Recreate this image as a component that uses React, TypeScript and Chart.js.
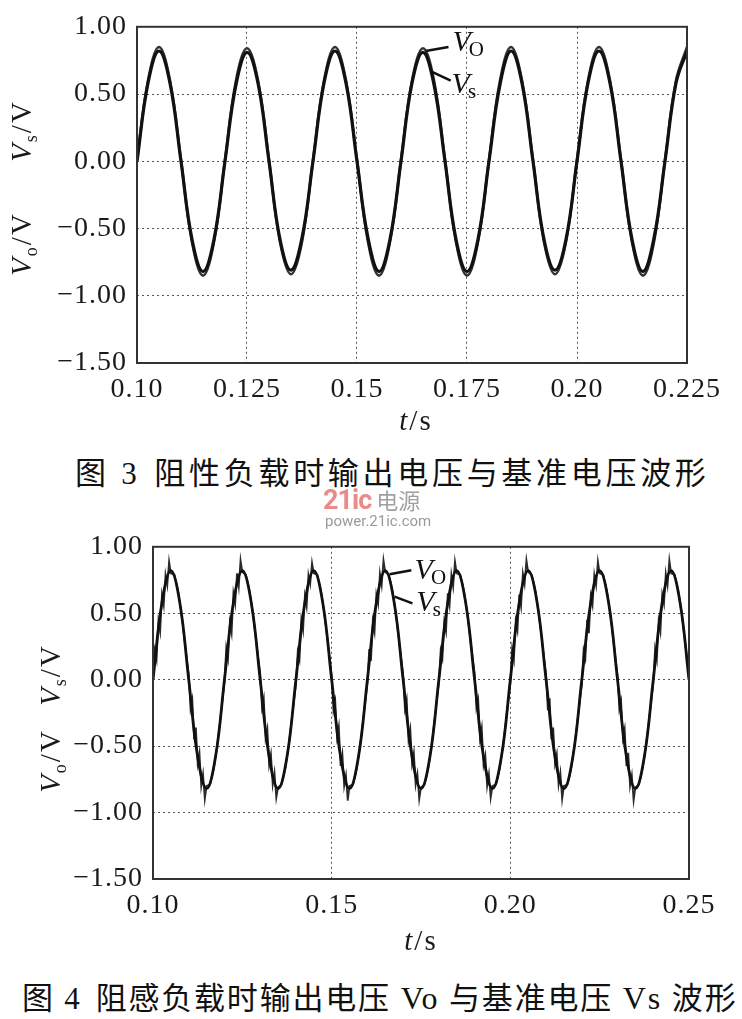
import React, { useEffect, useRef } from 'react';
import { Chart, registerables } from 'chart.js';

Chart.register(...registerables);

// ---------- Figure 3 (resistive load) ----------
const t1 = [
  0.1, 0.1025, 0.105, 0.1075, 0.11, 0.1125, 0.115, 0.1175,
  0.12, 0.1225, 0.125, 0.1275, 0.13, 0.1325, 0.135, 0.1375,
  0.14, 0.1425, 0.145, 0.1475, 0.15, 0.1525, 0.155, 0.1575,
  0.16, 0.1625, 0.165, 0.1675, 0.17, 0.1725, 0.175, 0.1775,
  0.18, 0.1825, 0.185, 0.1875, 0.19, 0.1925, 0.195, 0.1975,
  0.2, 0.2025, 0.205, 0.2075, 0.21, 0.2125, 0.215, 0.2175,
  0.22, 0.2225, 0.225,
];
const vs1 = [
  0, 0.58, 0.82, 0.58, 0, -0.58, -0.82, -0.58,
  0, 0.57, 0.81, 0.58, 0, -0.58, -0.81, -0.57,
  0, 0.58, 0.82, 0.58, 0, -0.57, -0.82, -0.58,
  0, 0.58, 0.81, 0.57, 0, -0.58, -0.82, -0.58,
  0, 0.57, 0.82, 0.58, 0, -0.58, -0.81, -0.58,
  0, 0.58, 0.82, 0.58, 0, -0.58, -0.82, -0.57,
  0, 0.58, 0.82,
];
const vo1 = [
  0.01, 0.6, 0.85, 0.6, 0.01, -0.6, -0.85, -0.6,
  0.01, 0.6, 0.84, 0.6, 0.01, -0.6, -0.84, -0.6,
  0.01, 0.6, 0.85, 0.6, 0.01, -0.6, -0.85, -0.6,
  0.01, 0.6, 0.84, 0.6, 0.01, -0.6, -0.85, -0.6,
  0.01, 0.6, 0.85, 0.6, 0.01, -0.6, -0.84, -0.6,
  0.01, 0.6, 0.85, 0.6, 0.01, -0.6, -0.85, -0.6,
  0.01, 0.6, 0.85,
];
const xTicks1 = [0.1, 0.125, 0.15, 0.175, 0.2, 0.225];
const xTickLabels1 = ['0.10', '0.125', '0.15', '0.175', '0.20', '0.225'];

// ---------- Figure 4 (resistive-inductive load) ----------
const t2 = [
  0.1, 0.1025, 0.105, 0.1075, 0.11, 0.1125, 0.115, 0.1175,
  0.12, 0.1225, 0.125, 0.1275, 0.13, 0.1325, 0.135, 0.1375,
  0.14, 0.1425, 0.145, 0.1475, 0.15, 0.1525, 0.155, 0.1575,
  0.16, 0.1625, 0.165, 0.1675, 0.17, 0.1725, 0.175, 0.1775,
  0.18, 0.1825, 0.185, 0.1875, 0.19, 0.1925, 0.195, 0.1975,
  0.2, 0.2025, 0.205, 0.2075, 0.21, 0.2125, 0.215, 0.2175,
  0.22, 0.2225, 0.225, 0.2275, 0.23, 0.2325, 0.235, 0.2375,
  0.24, 0.2425, 0.245, 0.2475, 0.25,
];
const vs2 = [
  0, 0.58, 0.82, 0.58, 0, -0.58, -0.82, -0.58,
  0, 0.58, 0.82, 0.58, 0, -0.58, -0.82, -0.58,
  0, 0.58, 0.82, 0.58, 0, -0.58, -0.82, -0.58,
  0, 0.58, 0.82, 0.58, 0, -0.58, -0.82, -0.58,
  0, 0.58, 0.82, 0.58, 0, -0.58, -0.82, -0.58,
  0, 0.58, 0.82, 0.58, 0, -0.58, -0.82, -0.58,
  0, 0.58, 0.82, 0.58, 0, -0.58, -0.82, -0.58,
  0, 0.58, 0.82, 0.58, 0,
];
// noisy output voltage [t, v]
const vo2: [number, number][] = [
  [0.1000, -0.03], [0.1005, 0.22], [0.1010, 0.15], [0.1015, 0.44], [0.1020, 0.36], [0.1025, 0.64], [0.1030, 0.56], [0.1035, 0.79], [0.1040, 0.71], [0.1045, 0.89], [0.1050, 0.80], [0.1060, 0.79], [0.1070, 0.67], [0.1080, 0.49], [0.1090, 0.26],
  [0.1100, 0.04], [0.1105, -0.22], [0.1110, -0.15], [0.1115, -0.45], [0.1120, -0.36], [0.1125, -0.63], [0.1130, -0.55], [0.1135, -0.80], [0.1140, -0.71], [0.1145, -0.90], [0.1150, -0.80], [0.1160, -0.79], [0.1170, -0.67], [0.1180, -0.49], [0.1190, -0.26],
  [0.1200, -0.02], [0.1205, 0.24], [0.1210, 0.16], [0.1215, 0.43], [0.1220, 0.35], [0.1225, 0.65], [0.1230, 0.57], [0.1235, 0.80], [0.1240, 0.70], [0.1245, 0.90], [0.1250, 0.81], [0.1260, 0.79], [0.1270, 0.67], [0.1280, 0.49], [0.1290, 0.26],
  [0.1300, 0.05], [0.1305, -0.21], [0.1310, -0.14], [0.1315, -0.44], [0.1320, -0.37], [0.1325, -0.64], [0.1330, -0.56], [0.1335, -0.79], [0.1340, -0.70], [0.1345, -0.89], [0.1350, -0.81], [0.1360, -0.79], [0.1370, -0.67], [0.1380, -0.49], [0.1390, -0.26],
  [0.1400, -0.04], [0.1405, 0.21], [0.1410, 0.15], [0.1415, 0.45], [0.1420, 0.37], [0.1425, 0.63], [0.1430, 0.55], [0.1435, 0.79], [0.1440, 0.72], [0.1445, 0.88], [0.1450, 0.80], [0.1460, 0.79], [0.1470, 0.67], [0.1480, 0.49], [0.1490, 0.26],
  [0.1500, 0.03], [0.1505, -0.23], [0.1510, -0.16], [0.1515, -0.43], [0.1520, -0.35], [0.1525, -0.65], [0.1530, -0.56], [0.1535, -0.80], [0.1540, -0.72], [0.1545, -0.91], [0.1550, -0.80], [0.1560, -0.79], [0.1570, -0.67], [0.1580, -0.49], [0.1590, -0.26],
  [0.1600, -0.03], [0.1605, 0.23], [0.1610, 0.14], [0.1615, 0.44], [0.1620, 0.36], [0.1625, 0.64], [0.1630, 0.57], [0.1635, 0.80], [0.1640, 0.71], [0.1645, 0.90], [0.1650, 0.81], [0.1660, 0.79], [0.1670, 0.67], [0.1680, 0.49], [0.1690, 0.26],
  [0.1700, 0.04], [0.1705, -0.22], [0.1710, -0.15], [0.1715, -0.45], [0.1720, -0.37], [0.1725, -0.63], [0.1730, -0.55], [0.1735, -0.79], [0.1740, -0.71], [0.1745, -0.90], [0.1750, -0.81], [0.1760, -0.79], [0.1770, -0.67], [0.1780, -0.49], [0.1790, -0.26],
  [0.1800, -0.02], [0.1805, 0.22], [0.1810, 0.16], [0.1815, 0.43], [0.1820, 0.36], [0.1825, 0.65], [0.1830, 0.56], [0.1835, 0.79], [0.1840, 0.70], [0.1845, 0.89], [0.1850, 0.80], [0.1860, 0.79], [0.1870, 0.67], [0.1880, 0.49], [0.1890, 0.26],
  [0.1900, 0.05], [0.1905, -0.21], [0.1910, -0.15], [0.1915, -0.44], [0.1920, -0.36], [0.1925, -0.64], [0.1930, -0.57], [0.1935, -0.80], [0.1940, -0.71], [0.1945, -0.89], [0.1950, -0.80], [0.1960, -0.79], [0.1970, -0.67], [0.1980, -0.49], [0.1990, -0.26],
  [0.2000, -0.03], [0.2005, 0.23], [0.2010, 0.15], [0.2015, 0.44], [0.2020, 0.37], [0.2025, 0.64], [0.2030, 0.55], [0.2035, 0.80], [0.2040, 0.72], [0.2045, 0.90], [0.2050, 0.81], [0.2060, 0.79], [0.2070, 0.67], [0.2080, 0.49], [0.2090, 0.26],
  [0.2100, 0.04], [0.2105, -0.23], [0.2110, -0.14], [0.2115, -0.45], [0.2120, -0.36], [0.2125, -0.63], [0.2130, -0.56], [0.2135, -0.79], [0.2140, -0.70], [0.2145, -0.90], [0.2150, -0.80], [0.2160, -0.79], [0.2170, -0.67], [0.2180, -0.49], [0.2190, -0.26],
  [0.2200, -0.04], [0.2205, 0.22], [0.2210, 0.16], [0.2215, 0.45], [0.2220, 0.35], [0.2225, 0.63], [0.2230, 0.56], [0.2235, 0.79], [0.2240, 0.71], [0.2245, 0.89], [0.2250, 0.80], [0.2260, 0.79], [0.2270, 0.67], [0.2280, 0.49], [0.2290, 0.26],
  [0.2300, 0.03], [0.2305, -0.22], [0.2310, -0.16], [0.2315, -0.44], [0.2320, -0.37], [0.2325, -0.65], [0.2330, -0.55], [0.2335, -0.80], [0.2340, -0.72], [0.2345, -0.91], [0.2350, -0.81], [0.2360, -0.79], [0.2370, -0.67], [0.2380, -0.49], [0.2390, -0.26],
  [0.2400, -0.03], [0.2405, 0.23], [0.2410, 0.15], [0.2415, 0.44], [0.2420, 0.36], [0.2425, 0.64], [0.2430, 0.57], [0.2435, 0.80], [0.2440, 0.71], [0.2445, 0.90], [0.2450, 0.80], [0.2460, 0.79], [0.2470, 0.67], [0.2480, 0.49], [0.2490, 0.26], [0.2500, 0.04],
];
const xTicks2 = [0.1, 0.15, 0.2, 0.25];
const xTickLabels2 = ['0.10', '0.15', '0.20', '0.25'];

// shared y axis
const yTicks = [1, 0.5, 0, -0.5, -1, -1.5];
const yTickLabels = ['1.00', '0.50', '0.00', '\u22120.50', '\u22121.00', '\u22121.50'];

// curve annotations (data units)
const notes1 = [
  { t: 0.1717, v: 0.82, sub: 'O', lt1: 0.1656, lv1: 0.82, lt2: 0.1708, lv2: 0.85 },
  { t: 0.1715, v: 0.51, sub: 's', lt1: 0.1667, lv1: 0.67, lt2: 0.1713, lv2: 0.6 },
];
const notes2 = [
  { t: 0.1732, v: 0.757, sub: 'O', lt1: 0.1662, lv1: 0.794, lt2: 0.1723, lv2: 0.824 },
  { t: 0.1737, v: 0.515, sub: 's', lt1: 0.1676, lv1: 0.625, lt2: 0.1726, lv2: 0.574 },
];

const SERIF = "'Liberation Serif', 'Times New Roman', serif";

const spacingPlugin = {
  id: 'spacing',
  beforeDraw(chart: any) {
    try {
      chart.ctx.letterSpacing = '1px';
    } catch (e) {
      /* unsupported */
    }
  },
};

const boxPlugin = {
  id: 'box',
  afterDatasetsDraw(chart: any) {
    const { ctx, chartArea } = chart;
    const { left, top, right, bottom } = chartArea;
    ctx.save();
    ctx.strokeStyle = '#333';
    ctx.lineWidth = 2;
    ctx.strokeRect(left, top, right - left, bottom - top);
    const notes = chart.options.plugins.box?.notes || [];
    const xs = chart.scales.x;
    const ys = chart.scales.y;
    ctx.strokeStyle = '#111';
    ctx.fillStyle = '#111';
    for (const n of notes) {
      ctx.lineWidth = 2.5;
      ctx.beginPath();
      ctx.moveTo(xs.getPixelForValue(n.lt1), ys.getPixelForValue(n.lv1));
      ctx.lineTo(xs.getPixelForValue(n.lt2), ys.getPixelForValue(n.lv2));
      ctx.stroke();
      const px = xs.getPixelForValue(n.t);
      const py = ys.getPixelForValue(n.v);
      ctx.font = `italic 30px ${SERIF}`;
      ctx.textBaseline = 'alphabetic';
      ctx.textAlign = 'left';
      ctx.fillText('V', px, py);
      const w = ctx.measureText('V').width;
      ctx.font = `21px ${SERIF}`;
      ctx.fillText(n.sub, px + w - 3, py + 5);
    }
    ctx.restore();
  },
};

function makeConfig(opts: any) {
  return {
    type: 'line',
    data: { datasets: opts.datasets },
    options: {
      animation: false,
      responsive: true,
      maintainAspectRatio: false,
      events: [],
      layout: { padding: opts.padding },
      plugins: {
        legend: { display: false },
        tooltip: { enabled: false },
        box: { notes: opts.notes },
      },
      elements: { point: { radius: 0 } },
      scales: {
        x: {
          type: 'linear',
          min: opts.xTicks[0],
          max: opts.xTicks[opts.xTicks.length - 1],
          afterBuildTicks: (s: any) => {
            s.ticks = opts.xTicks.map((v: number) => ({ value: v }));
          },
          afterFit: (s: any) => {
            s.height = opts.xHeight;
          },
          ticks: {
            autoSkip: false,
            maxRotation: 0,
            padding: 10,
            color: '#1a1a1a',
            font: { family: SERIF, size: 28 },
            callback: (v: number) => {
              const i = opts.xTicks.findIndex((x: number) => Math.abs(x - v) < 1e-9);
              return i >= 0 ? opts.xLabels[i] : '';
            },
          },
          grid: { color: '#555', lineWidth: 1, drawTicks: false },
          border: { display: false, dash: [2, 3] },
        },
        y: {
          type: 'linear',
          min: -1.5,
          max: 1,
          afterBuildTicks: (s: any) => {
            s.ticks = yTicks.map((v) => ({ value: v }));
          },
          afterFit: (s: any) => {
            s.width = opts.yWidth;
          },
          ticks: {
            autoSkip: false,
            padding: 10,
            color: '#1a1a1a',
            font: { family: SERIF, size: 28 },
            callback: (v: number) => {
              const i = yTicks.findIndex((x) => Math.abs(x - v) < 1e-9);
              return i >= 0 ? yTickLabels[i] : '';
            },
          },
          grid: { color: '#555', lineWidth: 1, drawTicks: false },
          border: { display: false, dash: [2, 3] },
        },
      },
    },
    plugins: [spacingPlugin, boxPlugin],
  };
}

function WaveChart({ config, top, height }: { config: any; top: number; height: number }) {
  const ref = useRef<HTMLCanvasElement>(null);
  useEffect(() => {
    const chart = new Chart(ref.current as HTMLCanvasElement, config);
    return () => chart.destroy();
  }, []);
  return (
    <div style={{ position: 'absolute', left: 0, top, width: 742, height }}>
      <canvas ref={ref} />
    </div>
  );
}

function RotLabel({ cx, cy, sub }: { cx: number; cy: number; sub: string }) {
  return (
    <div
      style={{
        position: 'absolute',
        left: cx,
        top: cy,
        transform: 'translate(-50%, -50%) rotate(-90deg)',
        whiteSpace: 'nowrap',
        fontFamily: SERIF,
        fontSize: 29,
        lineHeight: '30px',
        color: '#1a1a1a',
        letterSpacing: 2,
      }}
    >
      <i>V</i>
      <span style={{ fontSize: 18, position: 'relative', top: 6 }}>{sub}</span>/V
    </div>
  );
}

function TLabel({ cx, cy }: { cx: number; cy: number }) {
  return (
    <div
      style={{
        position: 'absolute',
        left: cx,
        top: cy,
        transform: 'translate(-50%, -50%)',
        whiteSpace: 'nowrap',
        fontFamily: SERIF,
        fontSize: 29,
        color: '#1a1a1a',
        letterSpacing: 2,
      }}
    >
      <i>t</i>/s
    </div>
  );
}

const CJK = "'Noto Sans CJK SC', sans-serif";

export default function App() {
  const config1 = makeConfig({
    datasets: [
      { data: t1.map((t, i) => ({ x: t, y: vs1[i] })), borderColor: '#111', borderWidth: 3.2, tension: 0.4 },
      { data: t1.map((t, i) => ({ x: t, y: vo1[i] })), borderColor: '#333', borderWidth: 2.6, tension: 0.4 },
    ],
    padding: { top: 20, right: 55, bottom: 0, left: 0 },
    xTicks: xTicks1,
    xLabels: xTickLabels1,
    xHeight: 77,
    yWidth: 137,
    notes: notes1,
  });
  const config2 = makeConfig({
    datasets: [
      { data: t2.map((t, i) => ({ x: t, y: vs2[i] })), borderColor: '#111', borderWidth: 2.8, tension: 0.4 },
      { data: vo2.map(([t, v]) => ({ x: t, y: v })), borderColor: '#2a2a2a', borderWidth: 1.8, tension: 0 },
    ],
    padding: { top: 19, right: 53, bottom: 0, left: 0 },
    xTicks: xTicks2,
    xLabels: xTickLabels2,
    xHeight: 81,
    yWidth: 153,
    notes: notes2,
  });

  return (
    <div style={{ position: 'absolute', left: 0, top: 0, width: 742, height: 1019, background: '#fff', overflow: 'hidden' }}>
      <WaveChart config={config1} top={0} height={440} />
      <WaveChart config={config2} top={520} height={440} />

      <RotLabel cx={23} cy={131} sub="s" />
      <RotLabel cx={23} cy={244} sub="o" />
      <RotLabel cx={52} cy={675} sub="s" />
      <RotLabel cx={52} cy={761} sub="o" />

      <TLabel cx={416} cy={420} />
      <TLabel cx={421} cy={940} />

      <div style={{ position: 'absolute', left: 75, top: 470, transform: 'translateY(-50%)', whiteSpace: 'nowrap', fontFamily: CJK, fontSize: 31, letterSpacing: 3.7, color: '#111' }}>
        图<span style={{ fontFamily: SERIF }}> 3</span>
        <span style={{ marginLeft: 14 }}>阻性负载时输出电压与基准电压波形</span>
      </div>

      <div style={{ position: 'absolute', left: 323, top: 485, whiteSpace: 'nowrap', lineHeight: '28px' }}>
        <span style={{ fontFamily: "'Roboto', sans-serif", fontWeight: 700, fontSize: 27, color: '#ec8a8a', letterSpacing: -1 }}>21ic</span>
        <span style={{ fontFamily: CJK, fontSize: 22, color: '#a0a0a0', marginLeft: 5 }}>电源</span>
      </div>
      <div style={{ position: 'absolute', left: 325, top: 512, whiteSpace: 'nowrap', fontFamily: "'Roboto', sans-serif", fontSize: 15, color: '#9a9a9a' }}>
        power.21ic.com
      </div>

      <div style={{ position: 'absolute', left: 22, top: 995, transform: 'translateY(-50%)', whiteSpace: 'nowrap', fontFamily: CJK, fontSize: 31, letterSpacing: 1.8, color: '#111' }}>
        图<span style={{ fontFamily: SERIF }}> 4</span>
        <span style={{ marginLeft: 14 }}>阻感负载时输出电压</span>
        <span style={{ fontFamily: SERIF, fontSize: 32 }}> Vo </span>
        与基准电压
        <span style={{ fontFamily: SERIF, fontSize: 32 }}> Vs </span>
        波形
      </div>
    </div>
  );
}
